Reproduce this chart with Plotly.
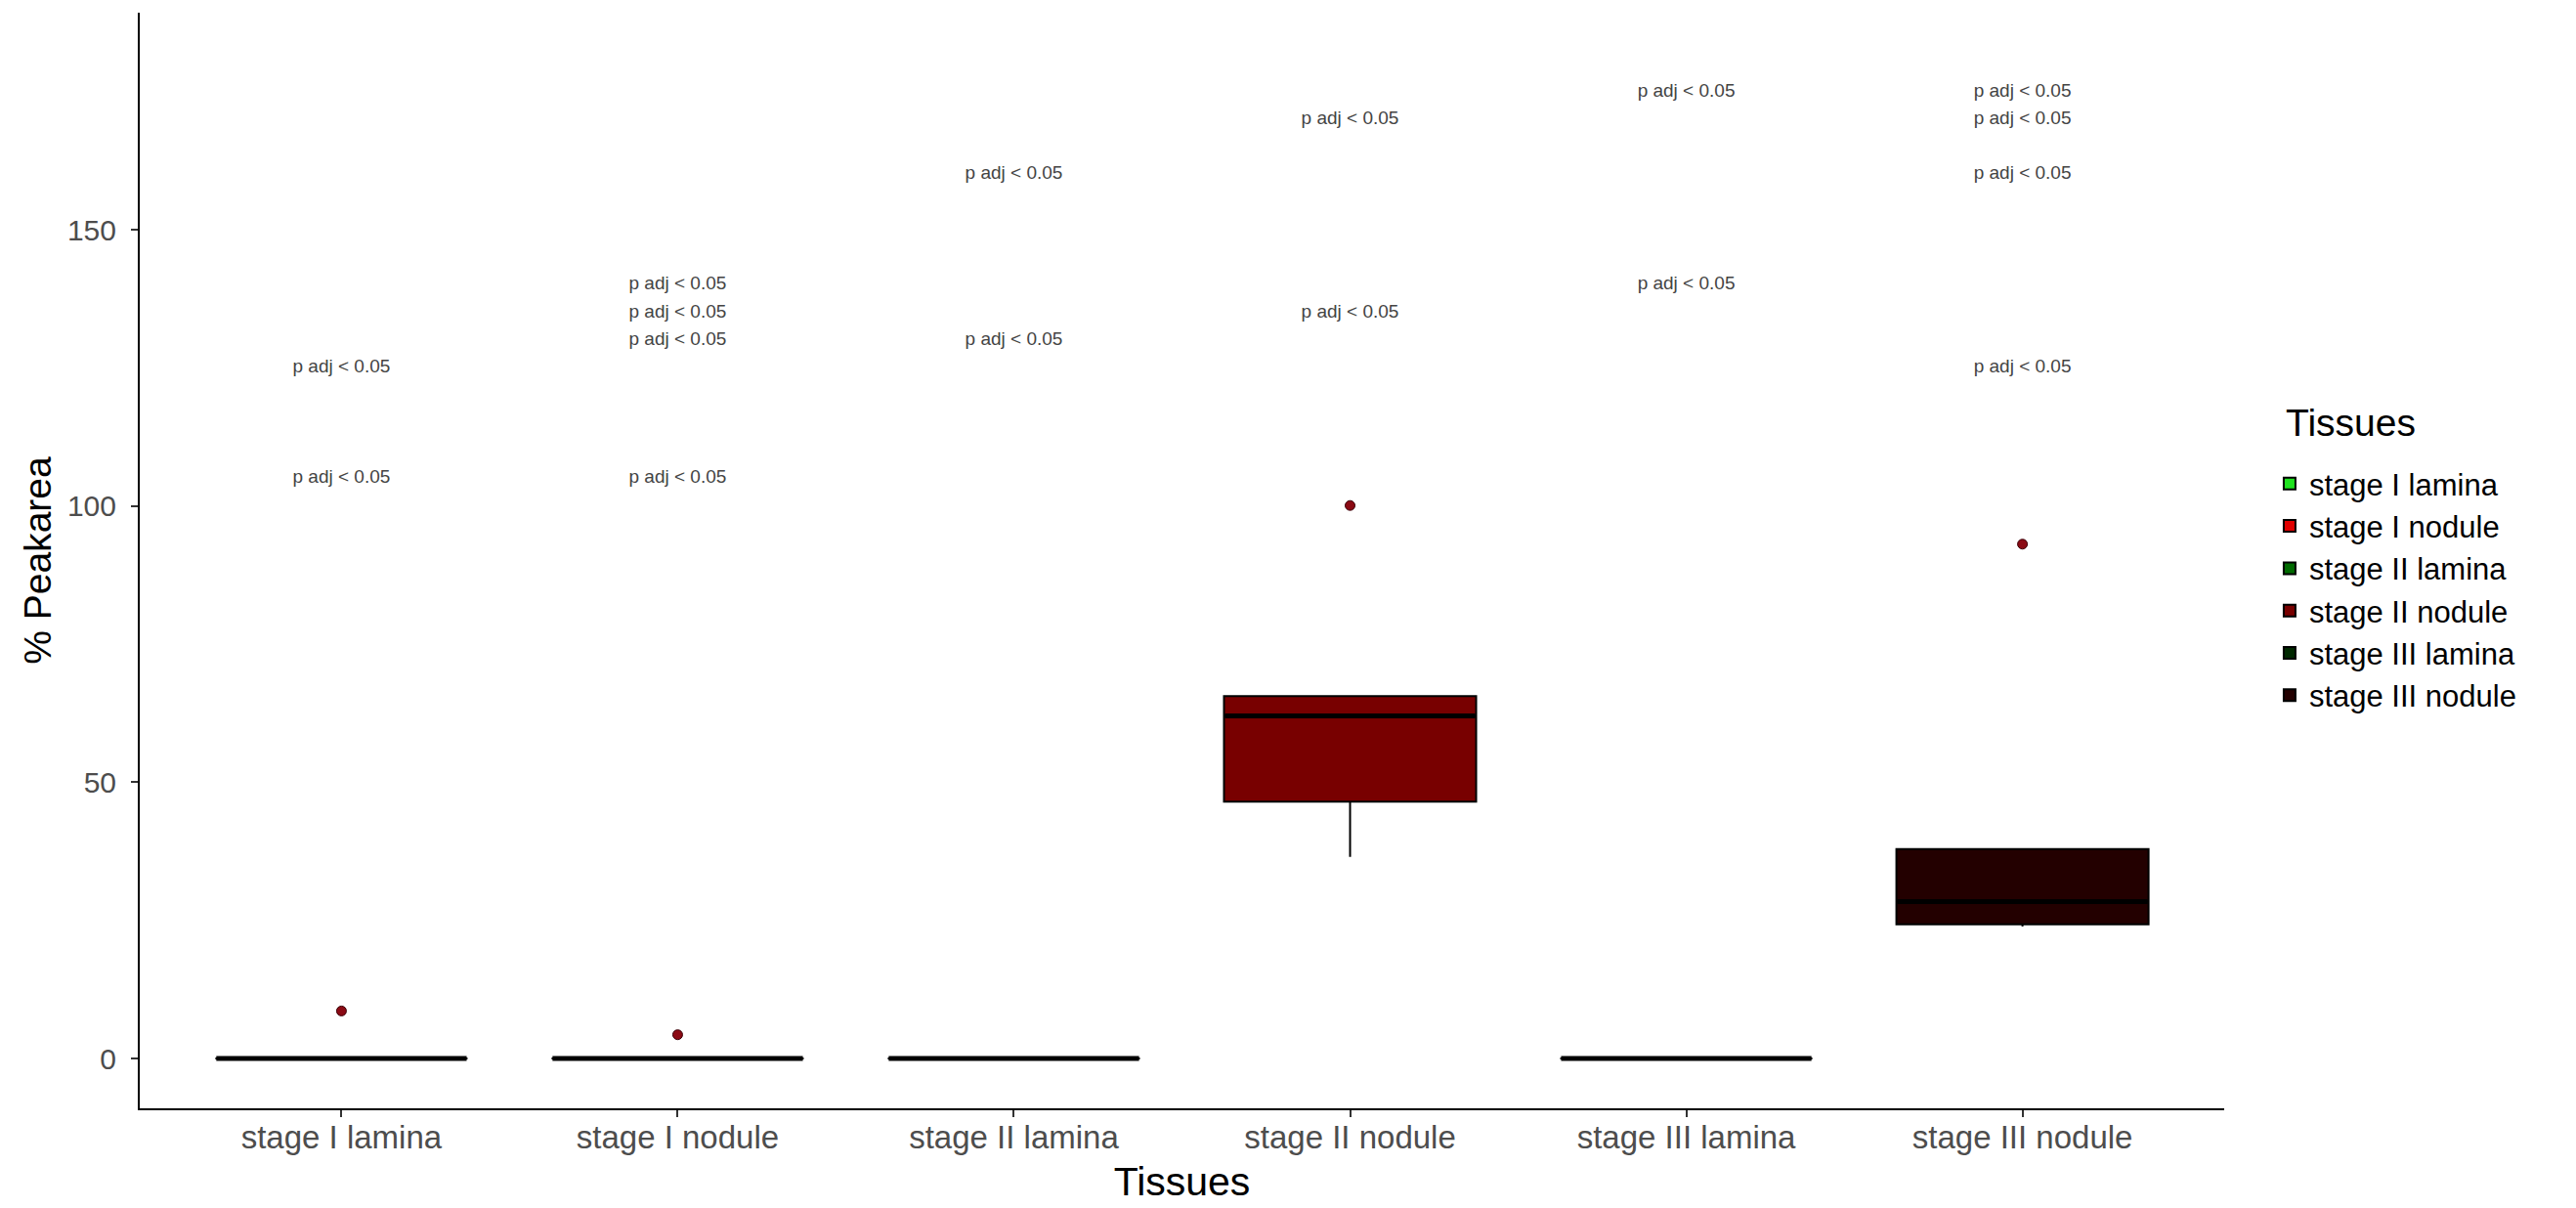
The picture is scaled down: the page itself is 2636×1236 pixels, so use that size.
import plotly.graph_objects as go

# ---------------- data ----------------
categories = ["stage I lamina", "stage I nodule", "stage II lamina",
              "stage II nodule", "stage III lamina", "stage III nodule"]
fill_colors = ["#1fe21f", "#e10000", "#006a00", "#780000", "#002800", "#230000"]

q1_vals = [0, 0, 0, 46.5, 0, 24.3]
median_vals = [0, 0, 0, 62.0, 0, 28.4]
q3_vals = [0, 0, 0, 65.6, 0, 37.9]
lower_vals = [0, 0, 0, 36.5, 0, 23.9]
upper_vals = [0, 0, 0, 65.6, 0, 37.9]

outlier_x = ["stage I lamina", "stage I nodule", "stage II nodule", "stage III nodule"]
outlier_y = [8.6, 4.3, 100.1, 93.1]

label_x = (["stage I lamina"] * 2 + ["stage I nodule"] * 4 + ["stage II lamina"] * 2
           + ["stage II nodule"] * 2 + ["stage III lamina"] * 2 + ["stage III nodule"] * 4)
label_y = [125, 105,
           140, 135, 130, 105,
           160, 130,
           170, 135,
           175, 140,
           175, 170, 160, 125]
label_text = "p adj < 0.05"

y_tick_vals = [0, 50, 100, 150]

# ---------------- figure ----------------
FONT = "Liberation Sans, Arial, sans-serif"
fig = go.Figure()

for i, cat in enumerate(categories):
    fig.add_trace(go.Box(
        x=[cat], name=cat,
        q1=[q1_vals[i]], median=[median_vals[i]], q3=[q3_vals[i]],
        lowerfence=[lower_vals[i]], upperfence=[upper_vals[i]],
        fillcolor=fill_colors[i],
        line=dict(color="#000000", width=2),
        width=0.75, whiskerwidth=0,
        boxpoints=False, hoverinfo="skip",
    ))

# thicker median lines (ggplot style); line-ew symbol spans 1.4 * size px
fig.add_trace(go.Scatter(
    x=categories, y=median_vals, mode="markers",
    marker=dict(symbol="line-ew", size=183, line=dict(color="#000000", width=5)),
    showlegend=False, hoverinfo="skip",
))

# outliers
fig.add_trace(go.Scatter(
    x=outlier_x, y=outlier_y, mode="markers",
    marker=dict(color="#8b0a14", size=10, line=dict(color="#3a0008", width=1)),
    showlegend=False, hoverinfo="skip",
))

# significance labels
fig.add_trace(go.Scatter(
    x=label_x, y=label_y, mode="text", text=[label_text] * len(label_y),
    textfont=dict(family=FONT, size=19, color="#444444"),
    textposition="middle center",
    showlegend=False, hoverinfo="skip",
))

fig.update_layout(
    width=2636, height=1236,
    margin=dict(l=143, r=360, t=13, b=102),
    paper_bgcolor="white", plot_bgcolor="white",
    boxmode="overlay",
    font=dict(family=FONT, color="#4d4d4d"),
    legend=dict(
        font=dict(size=31, color="#000000"),
        x=1.022, xanchor="left", y=0.594, yanchor="top",
        traceorder="normal", tracegroupgap=0,
    ),
    annotations=[dict(
        text="Tissues", xref="paper", yref="paper",
        x=1.0286, y=0.626, xanchor="left", yanchor="middle",
        showarrow=False, font=dict(size=39, color="#000000"),
    )],
    xaxis=dict(
        type="category", categoryorder="array", categoryarray=categories,
        range=[-0.6, 5.6], automargin=False,
        showline=True, linecolor="#000000", linewidth=2,
        ticks="outside", ticklen=7, tickwidth=2, tickcolor="#333333",
        tickfont=dict(size=33, color="#4d4d4d"), ticklabelstandoff=-8,
        title=dict(text="Tissues", font=dict(size=41, color="#000000"), standoff=14),
        showgrid=False, zeroline=False,
    ),
    yaxis=dict(
        range=[-9.02, 189.3], automargin=False,
        tickvals=y_tick_vals,
        showline=True, linecolor="#000000", linewidth=2,
        ticks="outside", ticklen=7, tickwidth=2, tickcolor="#333333",
        tickfont=dict(size=30, color="#4d4d4d"), ticklabelstandoff=9,
        title=dict(text="% Peakarea", font=dict(size=39, color="#000000"), standoff=4),
        showgrid=False, zeroline=False,
    ),
)

fig.write_html("out.html", config={"displayModeBar": False},
               post_script="document.body.style.margin='0';")
